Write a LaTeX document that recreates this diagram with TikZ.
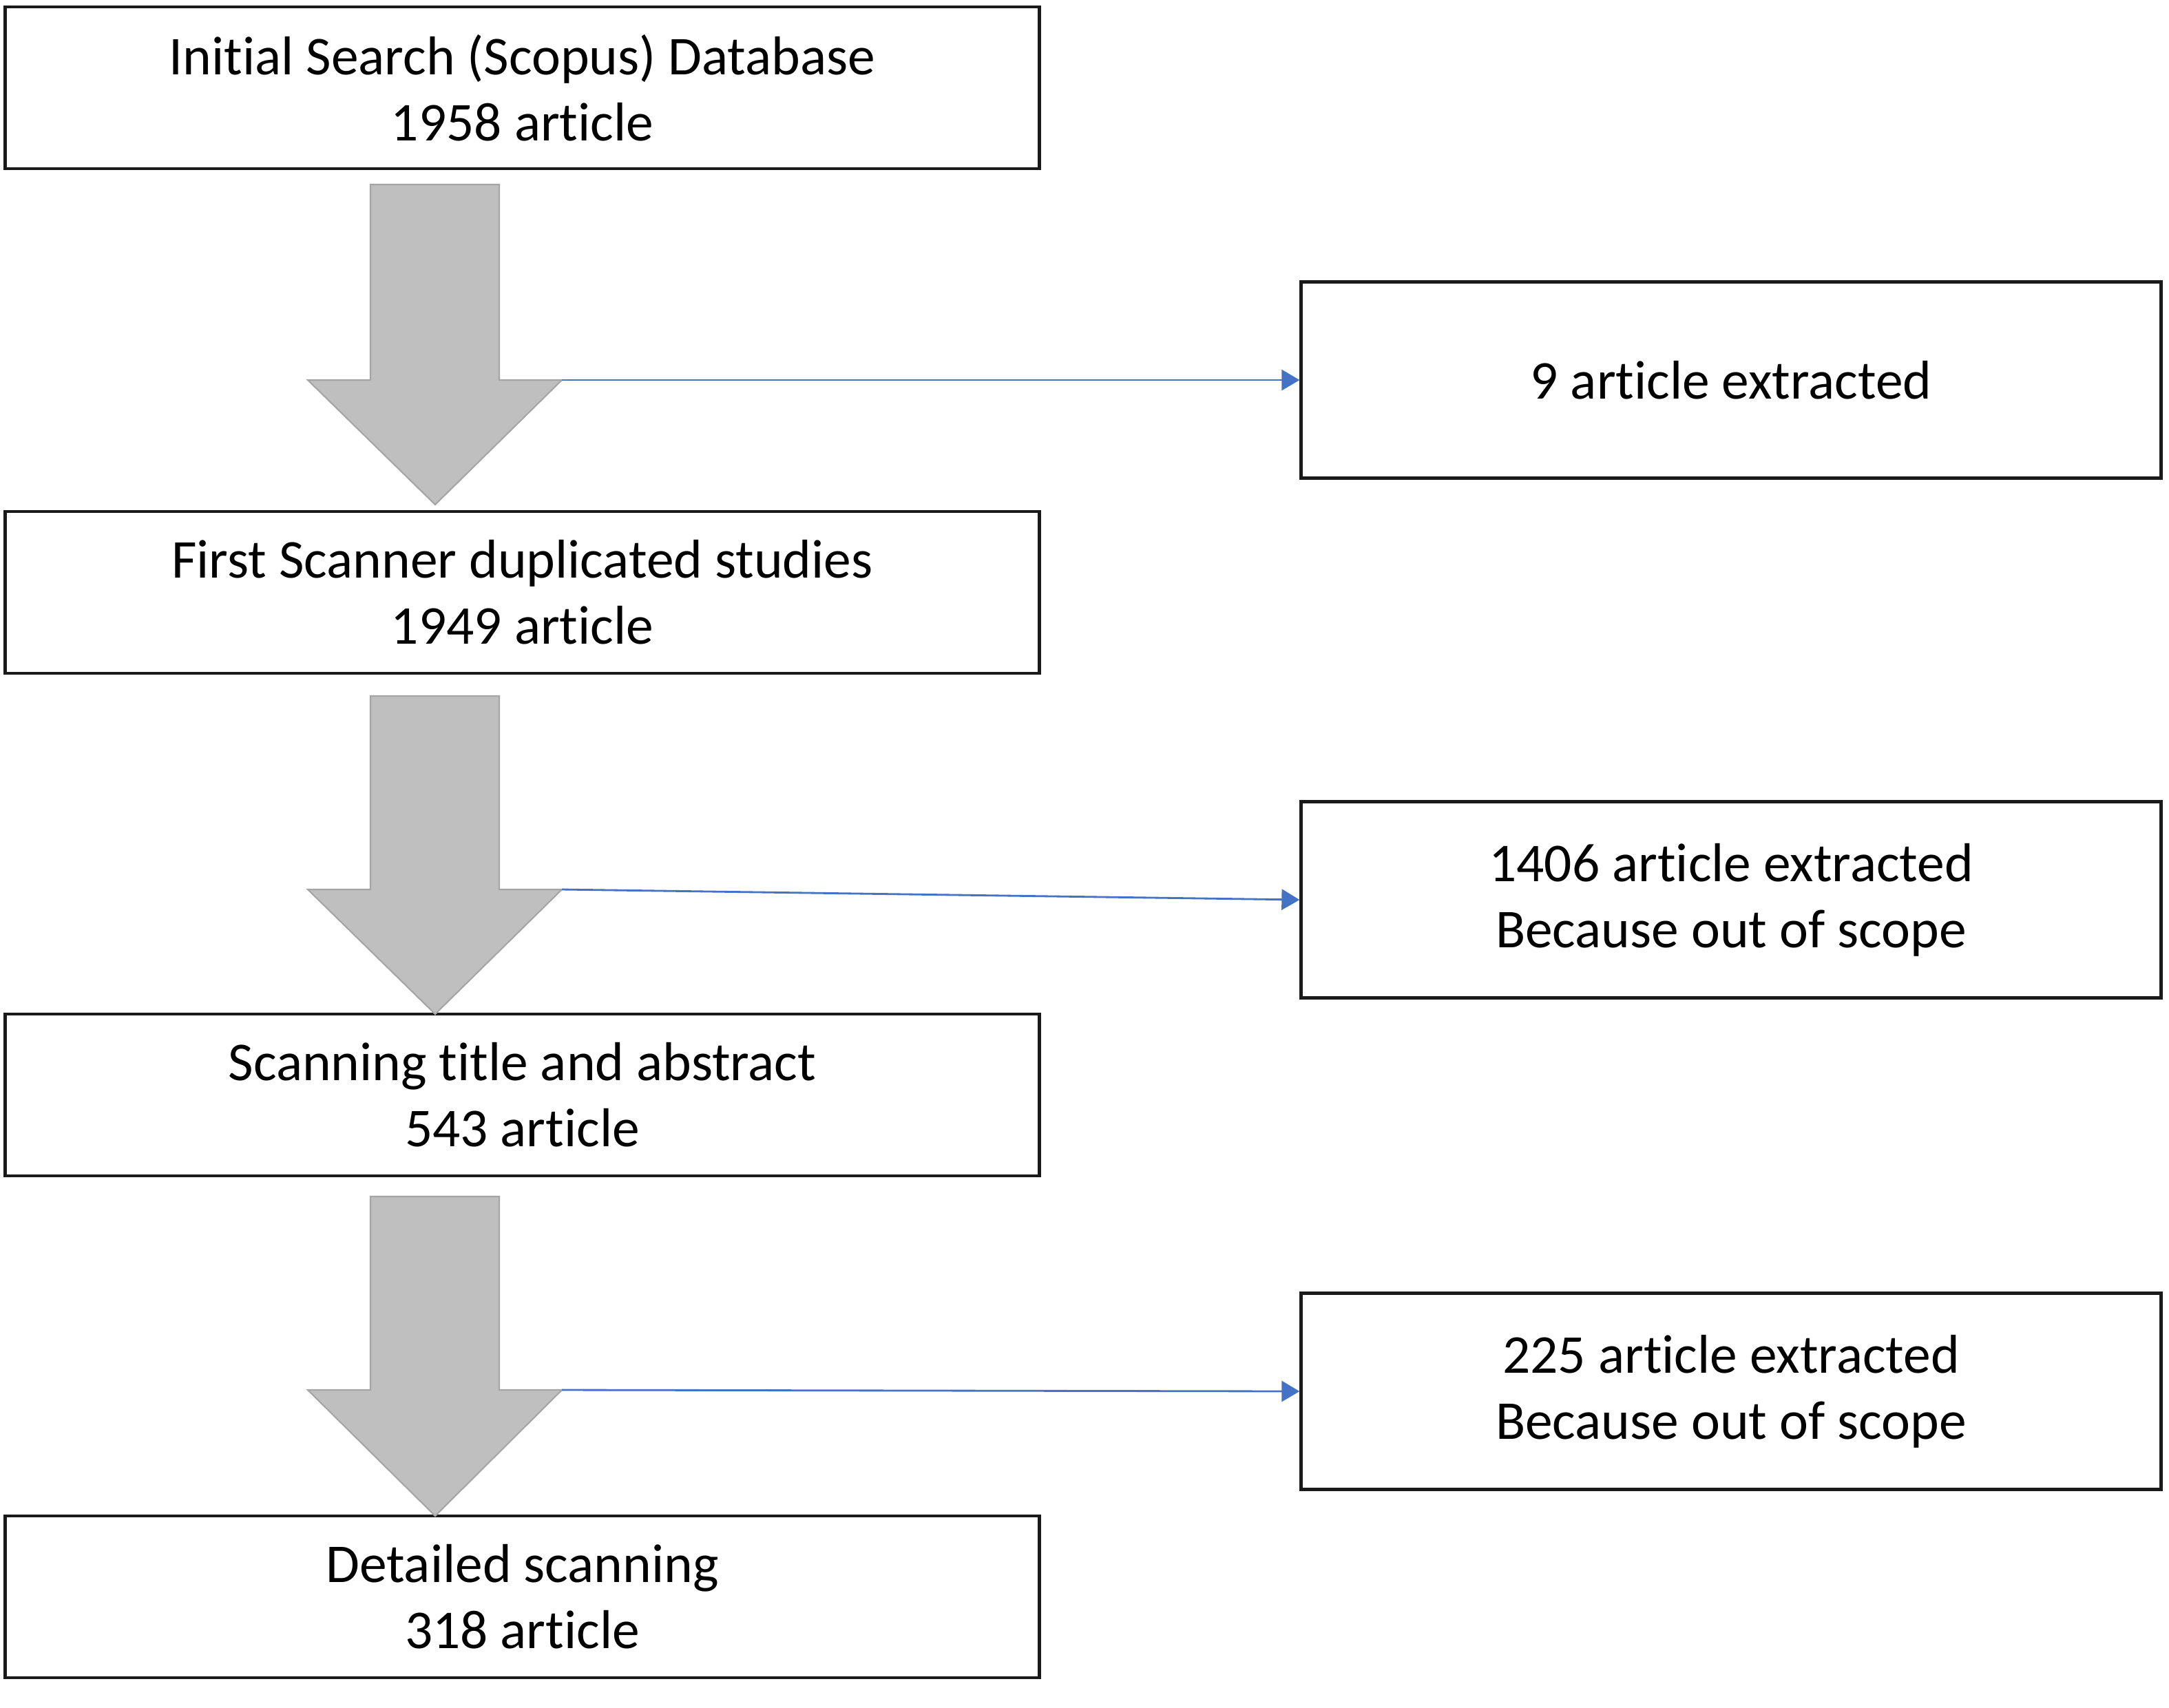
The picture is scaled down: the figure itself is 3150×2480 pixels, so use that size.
\documentclass[tikz,border=0pt]{standalone}
\usepackage{fontspec}
\setmainfont{Carlito}[Ligatures={NoCommon}]
\usetikzlibrary{arrows.meta}
\definecolor{boxline}{HTML}{1A1A1A}
\definecolor{arrfill}{HTML}{BFBFBF}
\definecolor{arrline}{HTML}{A5A5A5}
\definecolor{conn}{HTML}{4472C4}
\tikzset{
  leftbox/.style={draw=boxline, line width=1.3pt, fill=white, minimum width=15.01cm, minimum height=2.35cm, align=center, inner sep=0pt, font=\fontsize{22.6}{27.3}\selectfont},
  rightbox/.style={draw=boxline, line width=1.3pt, fill=white, minimum width=12.48cm, minimum height=2.85cm, align=center, inner sep=0pt, font=\fontsize{22.6}{27.3}\selectfont},
  bigarrow/.style={fill=arrfill, draw=arrline, line width=0.6pt, line join=miter},
  connector/.style={draw=conn, line width=0.8pt, -{Triangle[length=0.26cm, width=0.3cm]}}
}
\begin{document}
\begin{tikzpicture}[x=0.01cm, y=-0.01cm]
\useasboundingbox (0,0) rectangle (3150,2480);
\fill[white] (0,0) rectangle (3150,2480);

% left boxes
\node[leftbox] (b1) at (758.5,127.5) {Initial Search (Scopus) Database\\1958 article};
\node[leftbox] (b2) at (758.5,860.5) {First Scanner duplicated studies\\1949 article};
\node[leftbox] (b3) at (758.5,1590.5) {Scanning title and abstract\\543 article};
\node[leftbox] (b4) at (758.5,2319.5) {Detailed scanning\\318 article};

% right boxes
\node[rightbox] (r1) at (2514,552) {9 article extracted};
\node[rightbox] (r2) at (2514,1307) {1406 article extracted\\Because out of scope};
\node[rightbox] (r3) at (2514,2021) {225 article extracted\\Because out of scope};

% gray block arrows
\foreach \t/\b/\p/\n in {268/552/733/1, 1011/1292/1473/2, 1738/2019/2202/3}{
  \draw[bigarrow] (538,\t) -- (725,\t) -- (725,\b) -- (816,\b) -- (632,\p) -- (447,\b) -- (538,\b) -- cycle;
  \coordinate (h\n) at (816,\b);
}

% connectors
\draw[connector] (h1) -- (r1.west);
\draw[connector] (h2) -- (r2.west);
\draw[connector] (h3) -- (r3.west);
\end{tikzpicture}
\end{document}
